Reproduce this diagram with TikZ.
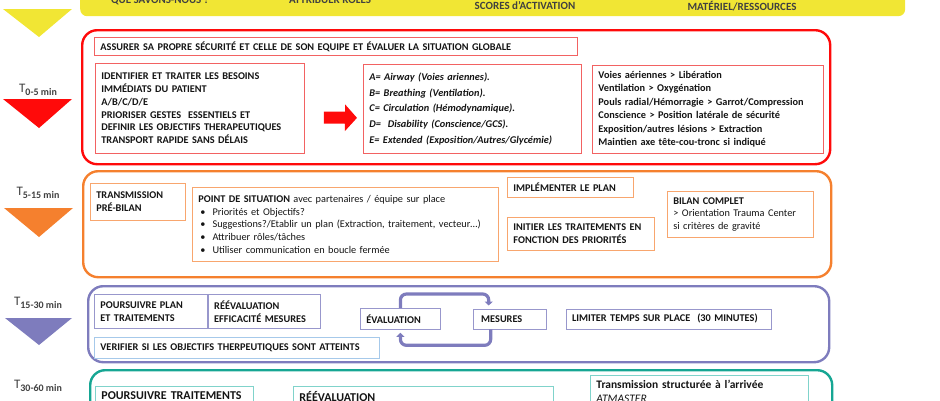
\documentclass[tikz,border=0pt]{standalone}
\usepackage{fontspec}
\setmainfont{Carlito}
\usetikzlibrary{arrows.meta,positioning}

\definecolor{ink}{HTML}{141414}
\definecolor{tgray}{HTML}{404040}
\definecolor{yel}{HTML}{F1E634}
\definecolor{redph}{HTML}{FF0A0A}
\definecolor{redin}{HTML}{F26262}
\definecolor{orph}{HTML}{F5802E}
\definecolor{orin}{HTML}{F8A66E}
\definecolor{puph}{HTML}{7E7CBD}
\definecolor{puin}{HTML}{9897CC}
\definecolor{bluin}{HTML}{A6C9EA}
\definecolor{teph}{HTML}{16A693}
\definecolor{tein}{HTML}{80D3CB}

\begin{document}
\begin{tikzpicture}[x=1pt, y=-1pt, node distance=10pt,
    txt/.style={text=ink, font=\fontsize{10.3}{12.8}\selectfont\bfseries},
    phase/.style={draw=#1, line width=2.4pt, rounded corners=15pt,
                  anchor=north west, inner sep=0pt},
    box/.style 2 args={draw, line width=0.8pt, txt, align=left,
                  anchor=north west, inner xsep=6pt, inner ysep=0pt,
                  minimum width=#1, minimum height=#2, text width=#1-12},
    tlab/.style={text=tgray, font=\fontsize{13}{13}\selectfont},
    cyclearrow/.style={draw=puph, line width=3.2pt, rounded corners=6pt,
                  -{Triangle[length=4pt,width=8pt]}, shorten >=3pt}]
\useasboundingbox (0,0) rectangle (940,400);

% steps band
\node[fill=yel, rounded corners=7pt, anchor=north west, inner sep=0pt,
      minimum width=825, minimum height=40] (steps) at (80,-24) {};
\node[txt, text=tgray, font=\fontsize{11}{11}\selectfont\bfseries, anchor=base] (know) at (160,3) {QUE SAVONS-NOUS ?};
\node[txt, text=tgray, font=\fontsize{11}{11}\selectfont\bfseries, anchor=base] (roles) at (330,3) {ATTRIBUER ROLES};
\node[txt, text=tgray, font=\fontsize{11}{11}\selectfont\bfseries, anchor=base] (scores) at (525,9) {SCORES d’ACTIVATION};
\node[txt, text=tgray, font=\fontsize{11}{11}\selectfont\bfseries, anchor=base] (equip) at (742,10) {MATÉRIEL/RESSOURCES};

% time marks
\fill[yel] (3,9) -- (72,9) -- (39,37) -- cycle;
\fill[redph] (3,99) -- (72,99) -- (39,128) -- cycle;
\fill[orph] (4,208) -- (73,208) -- (39,237) -- cycle;
\fill[puph] (5,318) -- (72,318) -- (39,345) -- cycle;
\node[tlab] (t1) at (38,90) {T\raisebox{-3.5pt}{\fontsize{10}{10}\selectfont\bfseries 0-5 min}};
\node[tlab] (t2) at (38,193) {T\raisebox{-3.5pt}{\fontsize{10}{10}\selectfont\bfseries 5-15 min}};
\node[tlab] (t3) at (38,303) {T\raisebox{-3.5pt}{\fontsize{10}{10}\selectfont\bfseries 15-30 min}};
\node[tlab] (t4) at (38,386) {T\raisebox{-3.5pt}{\fontsize{10}{10}\selectfont\bfseries 30-60 min}};

% 0-5 min
\node[phase=redph, minimum width=748, minimum height=134] (p1) at (81,29) {};
\node[box={483}{18}, draw=redin] (safe) at (94,37)
  {ASSURER SA PROPRE SÉCURITÉ ET CELLE DE SON EQUIPE ET ÉVALUER LA SITUATION GLOBALE};
\node[box={209}{90}, draw=redin, inner xsep=5pt] (needs) at (95,63)
  {IDENTIFIER ET TRAITER LES BESOINS\\ IMMÉDIATS DU PATIENT\\ A/B/C/D/E\\
   PRIORISER GESTES\ \ ESSENTIELS ET\\ DEFINIR LES OBJECTIFS THERAPEUTIQUES\\
   TRANSPORT RAPIDE SANS DÉLAIS};
\node[box={218}{89}, draw=redin, font=\fontsize{10.3}{15.6}\selectfont\bfseries\itshape] (abcde) at (363,64)
  {A= Airway (Voies ariennes).\\ B= Breathing (Ventilation).\\ C= Circulation (Hémodynamique).\\
   D=\ \ Disability (Conscience/GCS).\\ E= Extended (Exposition/Autres/Glycémie)};
\node[box={231}{88}, draw=redin, font=\fontsize{10.3}{13.5}\selectfont\bfseries] (actions) at (592,65)
  {Voies aériennes > Libération\\ Ventilation > Oxygénation\\ Pouls radial/Hémorragie > Garrot/Compression\\
   Conscience > Position latérale de sécurité\\ Exposition/autres lésions > Extraction\\
   Maintien axe tête-cou-tronc si indiqué};
\draw[redph, line width=12pt, -{Triangle[length=12pt,width=26pt]},
      shorten <=19pt, shorten >=6pt] ([yshift=-9pt]needs.east) -- ([yshift=-9pt]abcde.west);

% 5-15 min
\node[phase=orph, minimum width=748, minimum height=106] (p2) at (82,170) {};
\node[box={95}{37}, draw=orin] (pre) at (90,183) {TRANSMISSION\\ PRÉ-BILAN};
\node[box={306}{74}, draw=orin, inner xsep=4pt, font=\fontsize{10.3}{12.7}\selectfont] (point) at (192,187)
  {\textbf{POINT DE SITUATION} avec partenaires / équipe sur place\\
   \hspace*{2pt}\textbullet\hspace{7pt}Priorités et Objectifs?\\
   \hspace*{2pt}\textbullet\hspace{7pt}Suggestions?/Etablir un plan (Extraction, traitement, vecteur…)\\
   \hspace*{2pt}\textbullet\hspace{7pt}Attribuer rôles/tâches\\
   \hspace*{2pt}\textbullet\hspace{7pt}Utiliser communication en boucle fermée};
\node[box={126}{20}, draw=orin] (plan) at (507,177) {IMPLÉMENTER LE PLAN};
\node[box={147}{33}, draw=orin, below=19pt of plan.south west, anchor=north west] (init)
  {INITIER LES TRAITEMENTS EN\\ FONCTION DES PRIORITÉS};
\node[box={146}{46}, draw=orin, font=\fontsize{10.3}{12.8}\selectfont] (bilan) at (667,191)
  {\textbf{BILAN COMPLET}\\ > Orientation Trauma Center\\ si critères de gravité};

% 15-30 min
\node[phase=puph, minimum width=741, minimum height=76] (p3) at (87,285) {};
\node[box={113}{34}, draw=puin] (pursue) at (94,294) {POURSUIVRE PLAN\\ ET TRAITEMENTS};
\node[box={112}{34}, draw=puin, right=0pt of pursue] (reeval) {RÉÉVALUATION\\ EFFICACITÉ MESURES};
\node[box={285}{21}, draw=bluin, below=8pt of pursue.south west, anchor=north west] (verify)
  {VERIFIER SI LES OBJECTIFS THERPEUTIQUES SONT ATTEINTS};
\node[box={80}{21}, draw=puin] (eval) at (360,308) {ÉVALUATION};
\node[box={69}{20}, draw=puin, inner xsep=8pt, right=32pt of eval] (mesures) {MESURES};
\node[box={205}{20}, draw=puin, right=19pt of mesures] (limit) {LIMITER TEMPS SUR PLACE\ \ (30 MINUTES)};
\draw[cyclearrow] (eval.north) -- ++(0,-14) -| ([xshift=-21pt]mesures.north);
\draw[cyclearrow] ([xshift=-19pt]mesures.south) -- ++(0,16) -| (eval.south);

% 30-60 min
\node[phase=teph, minimum width=742, minimum height=70] (p4) at (89,369) {};
\node[box={158}{10}, draw=tein, inner ysep=5pt, text depth=30pt,
      font=\fontsize{12}{14}\selectfont\bfseries] (pursue2) at (95,386) {POURSUIVRE TRAITEMENTS};
\node[box={260}{10}, draw=tein, inner ysep=5pt, text depth=30pt,
      font=\fontsize{12}{14}\selectfont\bfseries] (reeval2) at (293,386) {RÉÉVALUATION};
\node[box={218}{10}, draw=tein, inner ysep=5pt, text depth=30pt,
      font=\fontsize{11.5}{14}\selectfont\bfseries] (arrival) at (590,375)
  {Transmission structurée à l’arrivée\\ {\mdseries\itshape ATMASTER}};
\end{tikzpicture}
\end{document}
